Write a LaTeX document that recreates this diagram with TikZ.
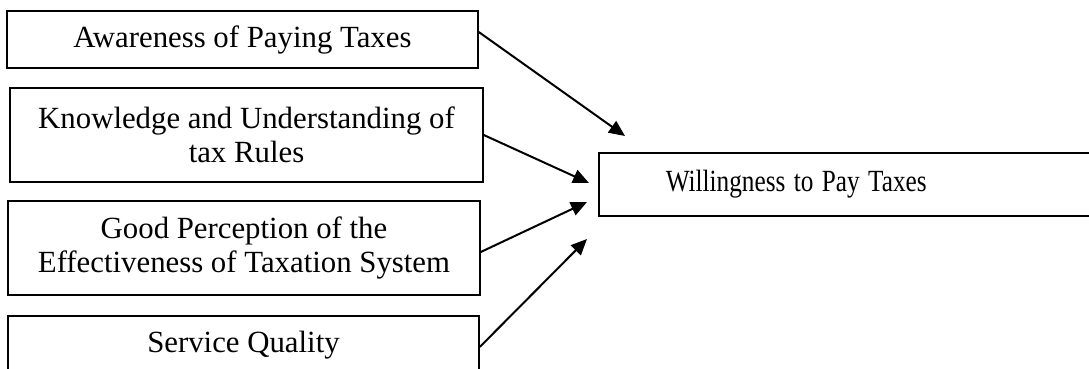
\documentclass[tikz,border=0pt]{standalone}
\usepackage{fontspec}
\usepackage{graphicx}
\setmainfont{Liberation Serif}
\usetikzlibrary{arrows.meta}
\begin{document}
\begin{tikzpicture}[x=1pt,y=-1pt,
  factor/.style={draw, line width=1.5pt, inner sep=0pt, align=center,
    font=\fontsize{30.8}{34.5}\selectfont},
  link/.style={line width=2pt, -{Triangle[length=16pt,width=14pt]}}]
\clip (0,0) rectangle (1089,369);
\node[factor, minimum width=471, minimum height=57] (b1) at (242.5,39.5) {Awareness of Paying Taxes};
\node[factor, minimum width=473, minimum height=94] (b2) at (246.5,135) {Knowledge and Understanding of\\tax Rules};
\node[factor, minimum width=472, minimum height=94] (b3) at (244,248) {Good Perception of the\\Effectiveness of Taxation System};
\node[factor, minimum width=471, minimum height=58] (b4) at (243.5,345) {Service Quality};
\node[factor, anchor=north west, minimum width=510, minimum height=63, text width=443, align=left, inner xsep=67pt] (w) at (598,152) {\scalebox{0.82}[1]{Willingness to Pay Taxes}};
\coordinate (t1) at (625,136);
\coordinate (t2) at (589,183);
\coordinate (t3) at (587,202);
\coordinate (t4) at (587,239);
\draw[link] ([yshift=7.5pt]b1.east) -- (t1);
\draw[link] (b2.east) -- (t2);
\draw[link] ([yshift=-4pt]b3.east) -- (t3);
\draw[link] ([yshift=-2pt]b4.east) -- (t4);
\end{tikzpicture}
\end{document}
